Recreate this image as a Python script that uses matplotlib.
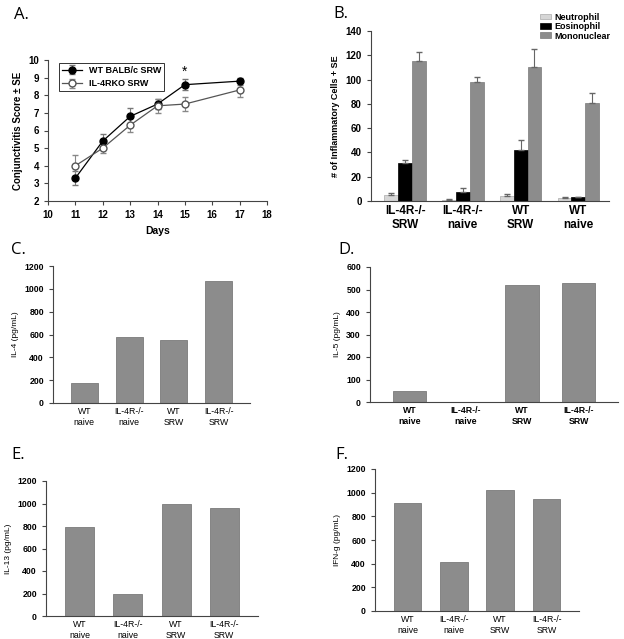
import matplotlib
matplotlib.use("Agg")
import matplotlib.pyplot as plt
import numpy as np

plt.rcParams['font.family'] = ['Liberation Sans', 'DejaVu Sans']

# ---- Panel A data ----
days = [11, 12, 13, 14, 15, 17]
wt_score = [3.3, 5.4, 6.8, 7.5, 8.6, 8.8]
wt_err = [0.4, 0.4, 0.5, 0.3, 0.3, 0.2]
ko_score = [4.0, 5.0, 6.3, 7.4, 7.5, 8.3]
ko_err = [0.6, 0.3, 0.4, 0.4, 0.4, 0.4]

# ---- Panel B data ----
b_groups = ["IL-4R-/-\nSRW", "IL-4R-/-\nnaive", "WT\nSRW", "WT\nnaive"]
neutrophil = [5, 1, 4.5, 2.5]
neutrophil_err = [1.5, 0.3, 1.5, 0.5]
eosinophil = [31, 7.5, 42, 3]
eosinophil_err = [3, 3, 8, 0.5]
mononuclear = [115, 98, 110, 81]
mononuclear_err = [8, 4, 15, 8]

# ---- Panels C-F data ----
cyto_groups = ["WT\nnaive", "IL-4R-/-\nnaive", "WT\nSRW", "IL-4R-/-\nSRW"]
il4 = [175, 575, 555, 1065]
il5 = [48, 0, 520, 530]
il13 = [790, 195, 1000, 960]
ifng = [910, 410, 1020, 945]

W, H = 624, 639
fig = plt.figure(figsize=(W / 100, H / 100), dpi=100)

def add_ax(l, r, t, b):
    return fig.add_axes([l / W, 1 - b / H, (r - l) / W, (b - t) / H])

GRAY = '#8c8c8c'
EDGE = '#7a7a7a'
SPINE = '#444444'
LETTER_FONT = ['Open Sans', 'DejaVu Sans']

def style(ax):
    for s in ['top', 'right']:
        ax.spines[s].set_visible(False)
    for s in ['left', 'bottom']:
        ax.spines[s].set_color(SPINE)
        ax.spines[s].set_linewidth(0.8)
    ax.tick_params(colors=SPINE, width=0.8, length=3)

# ---- Panel A ----
axA = add_ax(48, 267, 60, 201)
style(axA)
axA.errorbar(days, wt_score, yerr=wt_err, color='black', marker='o', ms=5,
             mfc='black', mec='black', lw=0.9, ecolor='#777777', elinewidth=0.8,
             capsize=2, label='WT BALB/c SRW')
axA.errorbar(days, ko_score, yerr=ko_err, color='#555555', marker='o', ms=5,
             mfc='white', mec='#555555', lw=0.9, ecolor='#888888', elinewidth=0.8,
             capsize=2, label='IL-4RKO SRW')
axA.text(15, 8.95, '*', ha='center', va='bottom', fontsize=10)
axA.set_xlim(10, 18)
axA.set_ylim(2, 10)
axA.set_xticks(range(10, 19))
axA.set_yticks(range(2, 11))
for lbl in axA.get_xticklabels() + axA.get_yticklabels():
    lbl.set_fontweight('bold')
    lbl.set_fontsize(7)
    lbl.set_color('black')
axA.set_ylabel('Conjunctivitis Score ± SE', fontsize=7, fontweight='bold')
axA.set_xlabel('Days', fontsize=7.5, fontweight='bold', labelpad=4)
leg = axA.legend(loc='upper left', frameon=True, fancybox=False,
                 edgecolor='black', borderpad=0.3, handlelength=2.2,
                 bbox_to_anchor=(0.03, 1.01), prop={'weight': 'bold', 'size': 6.5})
leg.get_frame().set_linewidth(0.7)
fig.text(14 / W, 1 - 15 / H, 'A.', fontsize=12, ha='left', va='center', family=LETTER_FONT)

# ---- Panel B ----
axB = add_ax(371, 609, 31, 201)
style(axB)
x = np.arange(len(b_groups))
bw = 0.24
z = [0] * 4
axB.bar(x - bw, neutrophil, bw, color='#d6d6d6', edgecolor='#aaaaaa', lw=0.5,
        yerr=[z, neutrophil_err], ecolor='#666666', capsize=2, error_kw={'elinewidth': 0.8},
        label='Neutrophil')
axB.bar(x, eosinophil, bw, color='black', edgecolor='black', lw=0.5,
        yerr=[z, eosinophil_err], ecolor='#666666', capsize=2, error_kw={'elinewidth': 0.8},
        label='Eosinophil')
axB.bar(x + bw, mononuclear, bw, color=GRAY, edgecolor=EDGE, lw=0.5,
        yerr=[z, mononuclear_err], ecolor='#666666', capsize=2, error_kw={'elinewidth': 0.8},
        label='Mononuclear')
axB.set_xlim(-0.59, 3.53)
axB.set_ylim(0, 140)
axB.set_yticks(range(0, 141, 20))
axB.set_xticks(x)
axB.set_xticklabels(b_groups, fontsize=8.5, fontweight='bold')
for lbl in axB.get_yticklabels():
    lbl.set_fontweight('bold')
    lbl.set_fontsize(7)
    lbl.set_color('black')
for lbl in axB.get_xticklabels():
    lbl.set_color('black')
axB.tick_params(axis='x', length=0, pad=3)
axB.set_ylabel('# of Inflammatory Cells + SE', fontsize=6.5, fontweight='bold')
axB.legend(loc='upper right', bbox_to_anchor=(1.03, 1.14), frameon=False,
           prop={'weight': 'bold', 'size': 6.5}, handlelength=1.2, handleheight=0.6,
           labelspacing=0.05, borderpad=0.1, handletextpad=0.4)
fig.text(333 / W, 1 - 14 / H, 'B.', fontsize=12, ha='left', va='center', family=LETTER_FONT)

# ---- Panels C-F ----
def cyto_panel(rect, vals, ylabel, ymax, ystep, letter, lpos, bold_ticks):
    ax = add_ax(*rect)
    style(ax)
    xs = np.arange(len(cyto_groups))
    ax.bar(xs, vals, 0.6, color=GRAY, edgecolor=EDGE, lw=0.6)
    ax.set_xlim(-0.7, 3.7)
    ax.set_ylim(0, ymax)
    ax.set_yticks(np.arange(0, ymax + 1, ystep))
    ax.set_xticks(xs)
    ax.set_xticklabels(cyto_groups, fontsize=6.3,
                       fontweight='bold' if bold_ticks else 'normal')
    for lbl in ax.get_yticklabels():
        lbl.set_fontweight('bold')
        lbl.set_fontsize(6.3)
        lbl.set_color('black')
    for lbl in ax.get_xticklabels():
        lbl.set_color('black')
    ax.tick_params(axis='x', length=0, pad=3)
    ax.set_ylabel(ylabel, fontsize=6)
    fig.text(lpos[0] / W, 1 - lpos[1] / H, letter, fontsize=12, ha='left', va='center',
             family=LETTER_FONT)
    return ax

cyto_panel((53, 250, 266, 403), il4, 'IL-4 (pg/mL)', 1200, 200, 'C.', (11, 250), False)
cyto_panel((370, 618, 267, 402), il5, 'IL-5 (pg/mL)', 600, 100, 'D.', (338, 250), True)
cyto_panel((46, 258, 481, 616), il13, 'IL-13 (pg/mL)', 1200, 200, 'E.', (11, 455), False)
cyto_panel((375, 579, 469, 611), ifng, 'IFN-g (pg/mL)', 1200, 200, 'F.', (335, 455), False)

fig.savefig('out.png', dpi=100)
